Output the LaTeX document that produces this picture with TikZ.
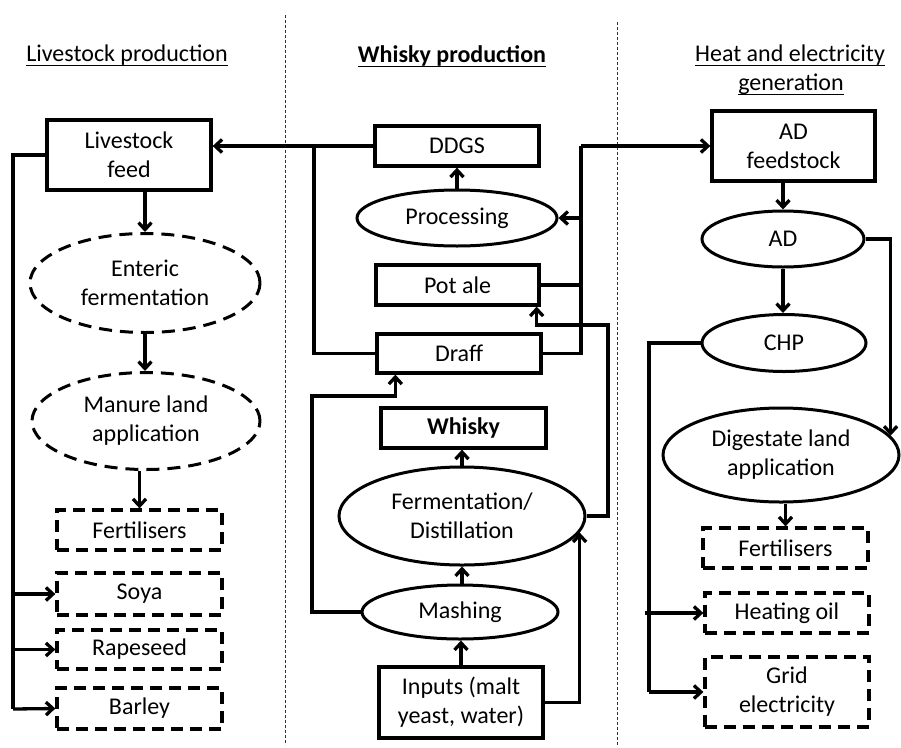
\documentclass[tikz,border=0pt]{standalone}
\usepackage{fontspec}
\setmainfont{Carlito}
\usetikzlibrary{shapes.geometric,arrows.meta}
\begin{document}
\begin{tikzpicture}[x=1pt,y=-1pt,
 font=\fontsize{24}{29}\selectfont,
 box/.style={draw, rectangle, line width=3.3pt, align=center, inner sep=0pt},
 dbox/.style={box, dash pattern=on 12pt off 7pt},
 ell/.style={draw, ellipse, line width=3pt, inner sep=0pt},
 dell/.style={ell, dash pattern=on 13pt off 8pt},
 tx/.style={align=center, inner sep=0pt},
 con/.style={line width=3.3pt},
 arr/.style={con, -{Straight Barb[length=7pt,width=13pt]}},
 head/.style={inner sep=0pt, anchor=base},
 uline/.style={line width=1.4pt},
 sep/.style={line width=0.8pt, dash pattern=on 3pt off 2pt, black!80}
]
\useasboundingbox (0,0) rectangle (901,747);

% separators
\draw[sep] (285,15) -- (285,745);
\draw[sep] (617,22) -- (617,745);

% headings
\node[head] (h1) at (127,61) {Livestock production};
\node[head,font=\fontsize{24}{29}\selectfont\bfseries] (h2) at (452,62) {Whisky production};
\node[head] (h3a) at (790,61) {Heat and electricity};
\node[head] (h3b) at (791,90) {generation};
\draw[uline] ([yshift=-4.5pt]h1.base west) -- ([yshift=-4.5pt]h1.base east);
\draw[uline] ([yshift=-4.5pt]h2.base west) -- ([yshift=-4.5pt]h2.base east);
\draw[uline] ([yshift=-4.5pt]h3a.base west) -- ([yshift=-4.5pt]h3a.base east);
\draw[uline] ([yshift=-4.5pt]h3b.base west) -- ([yshift=-4.5pt]h3b.base east);

% left column
\node[box, minimum width=164, minimum height=70] (feed) at (129,155) {Livestock\\feed};
\node[dell, minimum width=230, minimum height=99] (ent) at (145,283) {};
\node[tx] (entt) at (ent.center) {Enteric\\fermentation};
\node[dell, minimum width=228, minimum height=97] (man) at (146,421) {};
\node[tx] (mant) at (man.center) {Manure land\\application};
\node[dbox, minimum width=165, minimum height=40] (fert1) at (139.5,530) {Fertilisers};
\node[dbox, minimum width=165, minimum height=42] (soya) at (139.5,594) {Soya};
\node[dbox, minimum width=165, minimum height=39] (rape) at (139.5,649.5) {Rapeseed};
\node[dbox, minimum width=165, minimum height=41] (barley) at (139.5,708.5) {Barley};

% middle column
\node[box, minimum width=164, minimum height=40] (ddgs) at (457,146) {DDGS};
\node[ell, minimum width=200, minimum height=56] (proc) at (457,218) {};
\node[tx] (proct) at (proc.center) {Processing};
\node[box, minimum width=163, minimum height=40] (pot) at (457.5,285) {Pot ale};
\node[box, minimum width=164, minimum height=39] (draff) at (459,353.5) {Draff};
\node[box, minimum width=165, minimum height=40, font=\fontsize{24}{29}\selectfont\bfseries] (whisky) at (463.5,428) {Whisky};
\node[ell, minimum width=246, minimum height=98] (ferm) at (462,516) {};
\node[tx] (fermt) at (ferm.center) {Fermentation/\\Distillation};
\node[ell, minimum width=196, minimum height=54] (mash) at (460,612) {};
\node[tx] (masht) at (mash.center) {Mashing};
\node[box, minimum width=164, minimum height=71] (inp) at (461,702.5) {Inputs (malt\\yeast, water)};

% right column
\node[box, minimum width=163, minimum height=70] (adf) at (793.5,146) {AD\\feedstock};
\node[ell, minimum width=162, minimum height=56] (ad) at (783,239) {};
\node[tx] (adt) at (ad.center) {AD};
\node[ell, minimum width=164, minimum height=57] (chp) at (784,343) {};
\node[tx] (chpt) at (chp.center) {CHP};
\node[ell, minimum width=236, minimum height=94] (dig) at (781,455) {};
\node[tx] (digt) at (dig.center) {Digestate land\\application};
\node[dbox, minimum width=165, minimum height=40] (fert2) at (785.5,548) {Fertilisers};
\node[dbox, minimum width=164, minimum height=40] (heat) at (787,613) {Heating oil};
\node[dbox, minimum width=164, minimum height=70] (grid) at (787,692) {Grid\\electricity};

% coordinates for junctions
\coordinate (jl) at (314,146);
\coordinate (jr) at (581,146);
\coordinate (cl) at (13,709);
\coordinate (cr) at (649,692);
\coordinate (c1) at (608,325);
\coordinate (c2) at (312,396);

% left connectors
\draw[arr] (ddgs.west) -- (ddgs.west -| feed.east);
\draw[con] (draff.west) -- (draff.west -| jl) -- (jl);
\draw[arr] (feed.south -| ent.north) -- (ent.north);
\draw[arr] (ent.south) -- (ent.south |- man.north);
\draw[arr] (fert1.north |- man.south) -- (fert1.north);
\draw[con] (feed.west) -| (cl);
\draw[arr] (cl) -- (barley.west);
\draw[arr] (cl |- soya.west) -- (soya.west);
\draw[arr] (cl |- rape.west) -- (rape.west);

% middle connectors
\draw[arr] (proc.north) -- (ddgs.south);
\draw[con] (draff.east) -- (draff.east -| jr) -- (jr);
\draw[con] (pot.east) -- (pot.east -| jr);
\draw[arr] (proc.east -| jr) -- (proc.east);
\draw[arr] (jr) -- (adf.west);
\draw[arr] (ferm.east) -| (c1) -| ([xshift=-4pt]pot.south east);
\draw[arr] (mash.west) -| (c2) -| ([xshift=20pt]draff.south west);
\draw[arr] (ferm.north) -- (ferm.north |- whisky.south);
\draw[arr] (ferm.south |- mash.north) -- (ferm.south);
\draw[arr] (inp.north) -- (inp.north |- mash.south);
\draw[arr] (inp.east) -| (ferm.-8.6);

% right connectors
\draw[arr] (adf.south -| ad.north) -- (ad.north);
\draw[arr] (ad.south) -- (ad.south |- chp.north);
\draw[arr] (ad.east) -| (dig.10);
\draw[arr] (fert2.north |- dig.south) -- (fert2.north);
\draw[con] (chp.west) -| (cr);
\draw[arr] (cr) -- (grid.west);
\draw[arr] ([xshift=-4pt]cr |- heat.west) -- (heat.west);
\end{tikzpicture}
\end{document}
